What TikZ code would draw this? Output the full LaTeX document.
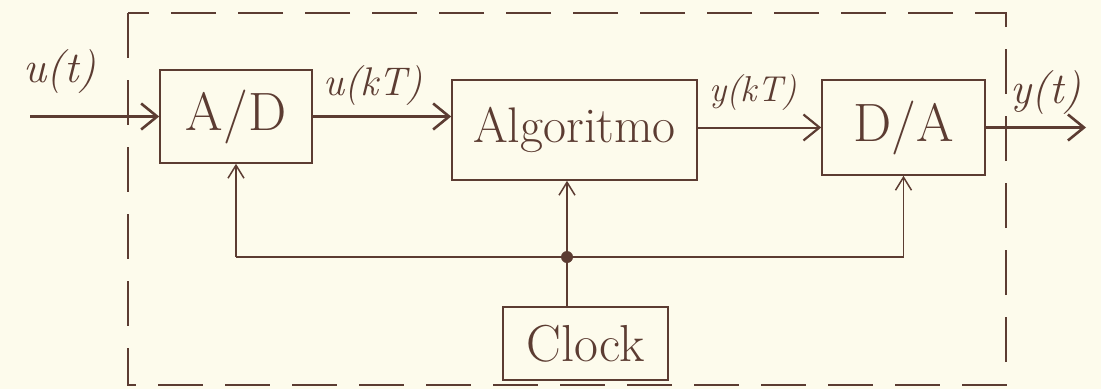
\documentclass[tikz,border=0pt]{standalone}
\usepackage{fontspec}
\usetikzlibrary{arrows.meta}
\definecolor{ink}{RGB}{92,60,50}
\definecolor{paper}{RGB}{253,251,236}
\begin{document}
\begin{tikzpicture}[x=1pt,y=-1pt,
  blockbox/.style={draw=ink, line width=1.6pt, inner sep=0pt, text=ink},
  sig/.style={draw=ink, line width=3pt, -{Straight Barb[length=16pt,width=26pt,line width=2.6pt]}},
  sigthin/.style={draw=ink, line width=2pt, -{Straight Barb[length=16pt,width=26pt,line width=2.2pt]}},
  clk/.style={draw=ink, line width=1.5pt, -{Straight Barb[length=13pt,width=16pt,line width=1.5pt]}},
  bus/.style={draw=ink, line width=1.5pt},
  lbl/.style={text=ink, font=\fontsize{44}{48}\selectfont\itshape},
  blk/.style={font=\fontsize{54}{58}\selectfont}]
\fill[paper] (0,0) rectangle (1101,389);
\useasboundingbox (0,0) rectangle (1101,389);
\draw[ink, line width=1.2pt, dash pattern=on 45pt off 22pt] (128,13) rectangle (1006,385);
% blocks
\node[blockbox, blk, minimum width=152pt, minimum height=93pt] (ad) at (236,116.5) {A/D};
\node[blockbox, font=\fontsize{50}{54}\selectfont, minimum width=245pt, minimum height=100pt] (alg) at (574.5,130) {Algoritmo};
\node[blockbox, blk, minimum width=163pt, minimum height=95pt] (da) at (903.5,127.5) {D/A};
\node[blockbox, font=\fontsize{52}{56}\selectfont, minimum width=165pt, minimum height=73pt] (clk) at (585.5,343.5) {Clock};
% signals
\coordinate (in) at (30,116.5);
\coordinate (out) at (1086,127.5);
\draw[sig] (in) -- (ad.west);
\draw[sig] (ad.east) -- (ad.east -| alg.west);
\draw[sigthin] (alg.east |- da.west) -- (da.west);
\draw[sig] (da.east) -- (out);
% labels
\node[lbl] (lu) at (60,72) {u(t)};
\node[lbl, font=\fontsize{40}{44}\selectfont\itshape] (lukt) at (373,86) {u(kT)};
\node[lbl, font=\fontsize{36}{40}\selectfont\itshape] (lykt) at (753,93) {y(kT)};
\node[lbl] (lyt) at (1046,93) {y(t)};
% clock distribution
\coordinate (j) at (567,257);
\coordinate (bl) at (ad.south |- j);
\coordinate (br) at (da.south |- j);
\draw[bus] (j |- clk.north) -- (j);
\draw[bus] (bl) -- (br);
\draw[clk] (j) -- (j |- alg.south);
\draw[clk] (bl) -- (ad.south);
\draw[clk] (br) -- (da.south);
\fill[ink] (j) circle (6pt);
\end{tikzpicture}
\end{document}
